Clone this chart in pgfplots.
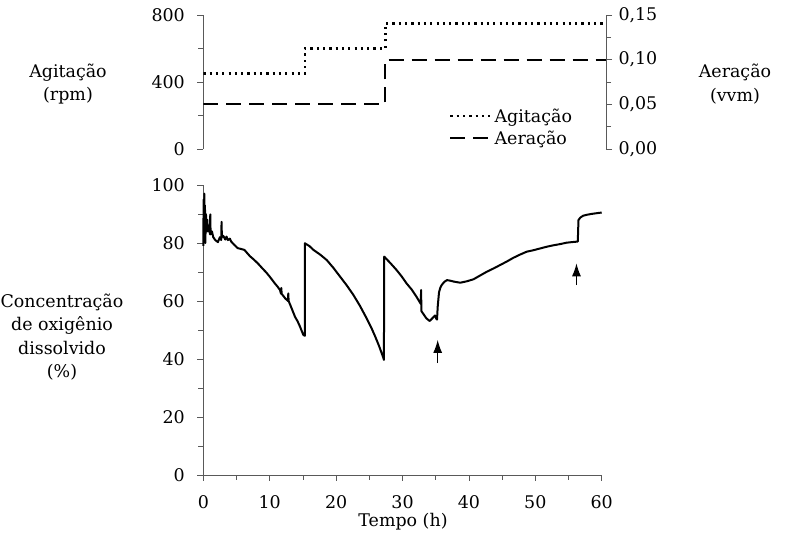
\documentclass[border=0pt]{standalone}
\usepackage{pgfplots}
\pgfplotsset{compat=1.18}
\usepackage{fontspec}
\setmainfont{DejaVu Serif}
\usetikzlibrary{arrows.meta}

% data
\pgfplotstableread{
t v
0 79
0.05 95
0.1 80
0.15 97
0.2 82
0.25 93
0.3 80
0.4 90
0.5 84
0.6 88
0.7 84
0.85 86
1.0 83
1.05 89.9
1.1 83
1.3 84
1.5 82
1.8 81
2.2 80.3
2.5 82
2.7 81
2.75 87.3
2.8 82
3.0 82.5
3.3 81.2
3.5 82.2
3.7 81
4.0 81.5
4.2 80.5
4.6 79.5
5.2 78.2
5.6 78
6.2 77.6
7.0 75.5
7.6 74.3
8.2 73
9.0 71
9.5 69.8
10 68.4
10.4 67.2
10.8 66
11.2 64.9
11.55 63.8
11.7 62.5
11.75 64.5
11.8 62.5
12.3 61
12.75 60
12.8 62.6
12.85 60
13.3 57.5
13.8 54.6
14.2 53
14.5 51.5
14.8 49.8
15.06 48.3
15.3 48
15.3 79.9
16.0 78.9
16.6 77.6
17.6 76
18.6 74.1
19.6 71.4
20.6 68.4
21.6 65.4
22.6 62.1
23.6 58.3
24.6 54
25.3 50.8
25.9 47.7
26.5 44.3
27.1 40.5
27.2 39.7
27.25 75.3
28.2 73
29.1 70.7
29.9 68.4
30.6 66.1
31.4 63.9
32.1 61.5
32.75 59
32.8 63.8
32.85 56.5
33.6 54
34.1 53.1
34.6 54.3
34.9 55
35.05 54
35.2 53.6
35.3 58
35.5 63
35.7 64.6
35.9 65.5
36.3 66.6
36.7 67.2
37.2 67
37.7 66.7
38.7 66.3
39.7 66.8
40.7 67.5
41.7 68.8
42.7 70.1
43.7 71.2
44.7 72.4
45.7 73.6
46.7 74.9
47.7 76
48.7 77
49.7 77.5
50.7 78.1
51.7 78.7
52.7 79.2
53.7 79.6
54.7 80.1
55.5 80.3
56.4 80.5
56.5 87.9
56.8 88.8
57.2 89.4
57.7 89.7
58.4 90
59 90.2
60 90.5
}\oxigenio

\pgfplotsset{
  every axis/.append style={
    scale only axis,
    tick align=outside,
    axis line style={line width=0.8bp, black!65},
    tick style={line width=0.8bp, black!65},
    major tick length=6bp,
    minor tick length=5bp,
    tick label style={font=\fontsize{17.5}{20}\selectfont, black},
    /pgf/number format/assume math mode=true,
  },
  agit/.style={black, line width=2.5bp, dash pattern=on 2.2bp off 4.1bp},
  aer/.style={black, line width=2bp, dash pattern=on 15bp off 8bp},
}

\begin{document}
\begin{tikzpicture}[font=\fontsize{17.5}{23.5}\selectfont]
\path[use as bounding box] (0,0) rectangle (789bp,534bp);

% top panel, agitation
\begin{axis}[
  at={(203.3bp,385bp)}, anchor=south west,
  width=402.7bp, height=134bp,
  xmin=0, xmax=60.6, ymin=0, ymax=800,
  hide x axis, axis y line*=left,
  ytick={0,400,800}, minor ytick={200,600},
  yticklabel style={xshift=-9bp},
]
\addplot[agit, const plot] coordinates {(0,450) (15.3,600) (27.4,750) (60.6,750)};
\end{axis}

% top panel, aeration
\begin{axis}[
  at={(203.3bp,385bp)}, anchor=south west,
  width=402.7bp, height=134bp,
  xmin=0, xmax=60.6, ymin=0, ymax=0.15,
  hide x axis, axis y line*=right,
  ytick={0,0.05,0.1,0.15}, minor ytick={0.025,0.075,0.125},
  scaled y ticks=false,
  yticklabel style={xshift=3bp, /pgf/number format/.cd, fixed, fixed zerofill, precision=2, use comma},
  legend style={draw=none, fill=none, at={(axis description cs:0.61,0.31)}, anchor=north west,
    inner sep=0pt, row sep=5bp, nodes={inner sep=1bp}, font=\fontsize{17.5}{20}\selectfont},
  legend cell align=left,
  legend image code/.code={\draw[#1] (0bp,0bp) -- (42bp,0bp);},
]
\addlegendimage{agit}
\addlegendentry{Agitação}
\addplot[aer, const plot] coordinates {(0,0.05) (27.4,0.1) (60.6,0.1)};
\addlegendentry{Aeração}
\end{axis}

% bottom panel, dissolved oxygen
\begin{axis}[
  at={(203.3bp,59bp)}, anchor=south west,
  width=398.4bp, height=290bp,
  xmin=0, xmax=60, ymin=0, ymax=100,
  axis x line*=bottom, axis y line*=left,
  xtick={0,10,...,60}, minor xtick={5,15,...,55},
  ytick={0,20,...,100}, minor ytick={10,30,...,90},
  xticklabel style={yshift=-11bp},
  yticklabel style={xshift=-9bp},
  clip=false,
]
\addplot[black, line width=2bp, line join=round] table {\oxigenio};
\addplot[black, line width=1.2bp, -{Latex[length=13bp,width=9bp]}] coordinates {(35.3,38.6) (35.3,46.6)};
\addplot[black, line width=1.2bp, -{Latex[length=13bp,width=9bp]}] coordinates {(56.2,65.5) (56.2,73)};
\end{axis}

\node[align=center] at (68bp,450bp) {Agitação\\(rpm)};
\node[align=center] at (735bp,450bp) {Aeração\\(vvm)};
\node[align=center] at (62bp,197bp) {Concentração\\de oxigênio\\dissolvido\\(\%)};
\node at (403bp,12bp) {Tempo (h)};
\end{tikzpicture}
\end{document}
